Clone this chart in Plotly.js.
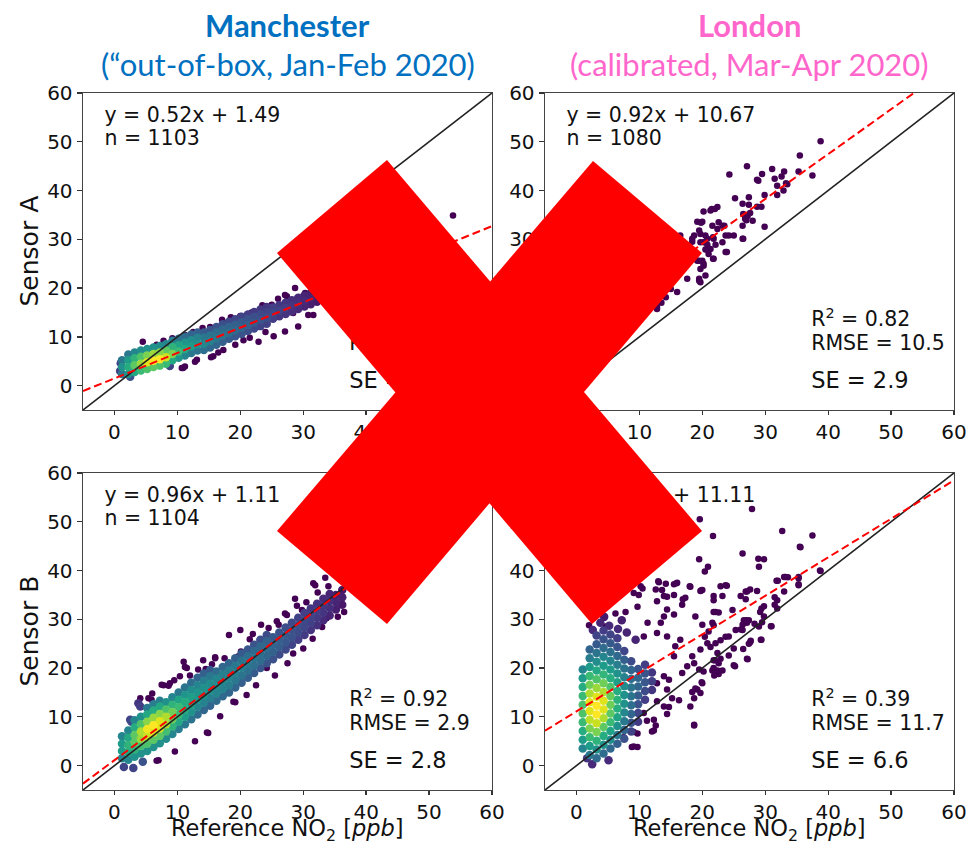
<!DOCTYPE html>
<html><head><meta charset="utf-8">
<script src="https://cdn.plot.ly/plotly-3.0.1.min.js"></script>
<style>html,body{margin:0;padding:0;background:#fff;}#chart{width:971px;height:846px;}</style>
</head><body><div id="chart"></div>
<script>
// ---------- data ----------
const cities = ['Manchester', 'London'];
const subtitles = ['(\u201cout-of-box, Jan-Feb 2020)', '(calibrated, Mar-Apr 2020)'];
const sensors = ['Sensor A', 'Sensor B'];
const xLabel = 'Reference NO<sub>2</sub> [<i>ppb</i>]';
const tickVals = [0, 10, 20, 30, 40, 50, 60];
// panels order: TL (Manchester A), TR (London A), BL (Manchester B), BR (London B)
const slopes = [0.52, 0.92, 0.96, 0.79];
const intercepts = [1.49, 10.67, 1.11, 11.11];
const nCount = [1103, 1080, 1104, 1079];
const r2 = ['0.74', '0.82', '0.92', '0.39'];
const rmse = ['6.7', '10.5', '2.9', '11.7'];
const se = ['2.3', '2.9', '2.8', '6.6'];

// dense part of each cloud: [reference, sensor, relative density]
const tlCore = [
[0.9,3.0,.2],[1.0,4.6,.2],[2.5,1.8,.25],[8.8,4.0,.2],
[1.2,2.4,.4],[1.2,3.8,.5],[1.2,5.2,.4],
[2.2,2.4,.5],[2.2,3.8,.62],[2.2,5.2,.55],[2.2,6.4,.4],
[3.2,2.8,.6],[3.2,4.2,.75],[3.2,5.6,.65],[3.2,6.8,.45],
[4.2,3.1,.68],[4.2,4.5,.85],[4.2,5.9,.72],[4.2,7.2,.48],
[5.2,3.4,.72],[5.2,4.8,.95],[5.2,6.2,.8],[5.2,7.5,.5],
[6.2,3.8,.75],[6.2,5.1,1],[6.2,6.5,.85],[6.2,7.8,.5],
[7.2,4.1,.72],[7.2,5.4,1],[7.2,6.8,.82],[7.2,8.1,.48],
[8.2,4.5,.68],[8.2,5.8,.92],[8.2,7.2,.75],[8.2,8.5,.45],
[9.2,5.2,.6],[9.2,6.5,.8],[9.2,7.9,.65],[9.2,9.2,.42],
[10.2,5.7,.52],[10.2,7.0,.68],[10.2,8.3,.58],[10.2,9.6,.38],
[11.2,6.2,.45],[11.2,7.5,.6],[11.2,8.8,.52],[11.2,10.0,.35],
[12.2,6.7,.4],[12.2,8.0,.55],[12.2,9.3,.48],[12.2,10.5,.32],
[13.2,7.2,.38],[13.2,8.5,.5],[13.2,9.8,.44],[13.2,10.9,.3],
[14.2,7.3,.36],[14.2,8.6,.46],[14.2,9.8,.4],[14.2,10.9,.28],
[15.2,7.8,.34],[15.2,9.1,.43],[15.2,10.3,.38],[15.2,11.4,.26],
[16.2,8.4,.32],[16.2,9.7,.4],[16.2,10.9,.35],[16.2,12.0,.25],
[17.2,9.0,.3],[17.2,10.3,.38],[17.2,11.5,.33],[17.2,12.6,.24],
[18.2,9.6,.28],[18.2,10.8,.36],[18.2,12.0,.32],[18.2,13.1,.22],
[19.2,10.1,.27],[19.2,11.3,.34],[19.2,12.5,.3],[19.2,13.6,.21],
[20.2,10.6,.26],[20.2,11.8,.32],[20.2,13.0,.28],[20.2,14.1,.2],
[21.2,11.2,.24],[21.2,12.4,.3],[21.2,13.6,.26],[21.2,14.6,.18],
[22.2,11.7,.22],[22.2,12.9,.28],[22.2,14.1,.24],[22.2,15.1,.17],
[23.2,12.2,.2],[23.2,13.4,.26],[23.2,14.6,.22],[23.2,15.6,.16],
[24.2,12.7,.19],[24.2,13.9,.24],[24.2,15.1,.2],[24.2,16.1,.15],
[25.2,13.7,.18],[25.2,14.9,.22],[25.2,16.0,.18],
[26.2,14.2,.16],[26.2,15.4,.2],[26.2,16.5,.16],
[27.2,14.7,.15],[27.2,15.9,.18],[27.2,17.0,.15],
[28.2,15.2,.13],[28.2,16.4,.16],[28.2,17.5,.13],
[29.2,15.7,.12],[29.2,16.9,.14],[29.2,18.0,.12],
[30.2,16.2,.1],[30.2,17.4,.12],[30.2,18.5,.1],
[31.2,16.7,.08],[31.2,17.9,.1],[31.2,19.0,.08],
[32.2,17.2,.07],[32.2,18.4,.08],
[33.2,17.7,.06],[33.2,18.9,.07]
];
const tlOut = [
[7.8,9.2],[9.2,9.7],[11.2,10.4],[15.2,12.0],[17.1,13.5],[20.0,14.3],[21.8,15.0],[25.0,16.6],
[27.1,18.6],[28.7,20.0],[30.3,18.3],[31.9,17.2],[10.7,3.6],[11.2,3.9],[12.8,4.9],[15.35,5.8],
[17.3,7.3],[19.2,8.4],[22.9,9.0],[25.3,10.1],[27.1,11.1],[29.2,12.1],[31.6,14.5],[6.7,8.4],
[27.4,18.3],[30.8,14.5],[28.4,14.9],[30.3,19.0],[31.6,17.6],[13.1,5.3],[10.9,3.6],[15.7,6.0],
[53.8,34.9],[4.5,9.0],[12.5,11.0],[14.0,11.8],[18.5,14.0],[23.5,16.5],[26.0,17.8],[21.5,9.8],
[24.0,11.0],[20.5,9.3],[16.5,6.8]
];
const trOut = [
[38.8,50.1],[35.5,47.2],[24.3,43.3],[27.1,45.0],[31.1,44.4],[29.5,43.4],[33.0,43.9],[35.3,43.9],
[37.5,43.1],[31.5,42.4],[28.7,42.2],[32.6,42.9],[31.9,41.0],[33.3,41.5],[32.9,40.0],[31.9,39.1],
[29.9,39.1],[25.2,38.4],[27.4,38.6],[26.4,37.3],[27.4,37.1],[28.7,36.7],[29.4,36.7],[29.9,32.6],
[26.5,35.2],[26.8,34.2],[27.2,34.8],[27.6,35.4],[27.0,33.9],[28.0,33.8],[26.4,32.8],[26.4,30.1],
[25.0,30.8],[24.2,30.8],[23.9,27.4],[23.2,29.4],[23.5,32.8],[22.4,32.1],[22.6,33.5],[21.6,32.8],
[22.4,36.6],[21.5,36.2],[20.2,35.7],[19.2,33.6],[20.0,33.6],[19.7,31.1],[20.8,30.1],[21.8,30.1],
[20.2,29.4],[21.3,28.0],[20.5,27.9],[20.0,25.6],[21.7,26.0],[20.2,25.0],[19.5,21.9],[19.7,21.2],
[19.7,23.9],[18.7,30.8],[18.4,30.1],[16.5,30.8],[19.5,25.6],[19.5,21.5],[17.6,21.9],[16.0,19.2],
[15.0,19.8],[14.2,18.1],[12.8,16.1],[20.5,22.6],[21.8,26.0],[20.2,24.6],[12.8,15.7],[13.5,17.0],
[28.9,42.0],[33.5,41.3],[22.0,36.2],[21.3,35.9],[23.2,32.8],[19.8,33.4],[19.5,31.8],[20.5,30.8],
[21.7,30.4],[19.7,29.4],[20.8,28.9],[22.1,28.9],[23.7,30.8],[26.5,30.1],[23.7,27.4],[18.4,29.5],
[19.2,25.6],[21.0,27.0],[20.7,27.9]
];
const blCore = [
[1.2,1.5,.45],[1.2,3.0,.55],[1.2,4.5,.55],[1.2,6.0,.45],
[2.2,1.2,.45],[2.2,2.7,.6],[2.2,4.2,.65],[2.2,5.7,.6],[2.2,7.2,.45],
[3.2,1.8,.5],[3.2,3.3,.65],[3.2,4.8,.75],[3.2,6.3,.75],[3.2,7.8,.62],[3.2,9.3,.45],
[4.2,2.5,.5],[4.2,4.0,.7],[4.2,5.5,.85],[4.2,7.0,.88],[4.2,8.5,.72],[4.2,10.0,.5],
[5.2,3.0,.5],[5.2,4.5,.72],[5.2,6.0,.92],[5.2,7.5,.98],[5.2,9.0,.82],[5.2,10.5,.6],[5.2,11.8,.4],
[6.2,3.8,.5],[6.2,5.3,.75],[6.2,6.8,.95],[6.2,8.3,1],[6.2,9.8,.85],[6.2,11.3,.62],[6.2,12.6,.42],
[7.2,4.6,.5],[7.2,6.1,.75],[7.2,7.6,.95],[7.2,9.1,.95],[7.2,10.6,.82],[7.2,12.1,.6],[7.2,13.3,.42],
[8.2,5.5,.48],[8.2,7.0,.7],[8.2,8.5,.88],[8.2,10.0,.88],[8.2,11.5,.72],[8.2,13.0,.5],
[9.2,6.5,.45],[9.2,8.0,.65],[9.2,9.5,.78],[9.2,11.0,.78],[9.2,12.5,.65],[9.2,14.0,.45],
[10.2,7.5,.42],[10.2,9.0,.6],[10.2,10.5,.68],[10.2,12.0,.68],[10.2,13.5,.58],[10.2,15.0,.4],
[11.2,8.5,.4],[11.2,10.0,.55],[11.2,11.5,.62],[11.2,13.0,.62],[11.2,14.5,.52],[11.2,16.0,.38],
[12.2,9.5,.38],[12.2,11.0,.5],[12.2,12.5,.56],[12.2,14.0,.56],[12.2,15.5,.48],[12.2,17.0,.35],
[13.2,10.5,.35],[13.2,12.0,.46],[13.2,13.5,.52],[13.2,15.0,.52],[13.2,16.5,.45],[13.2,18.0,.32],
[14.2,11.4,.33],[14.2,12.9,.44],[14.2,14.4,.5],[14.2,15.9,.5],[14.2,17.4,.42],[14.2,18.9,.3],
[15.2,12.3,.32],[15.2,13.8,.42],[15.2,15.3,.48],[15.2,16.8,.48],[15.2,18.3,.4],[15.2,19.6,.28],
[16.2,13.3,.35],[16.2,14.8,.45],[16.2,16.3,.48],[16.2,17.8,.45],[16.2,19.3,.35],
[17.2,14.2,.34],[17.2,15.7,.44],[17.2,17.2,.46],[17.2,18.7,.43],[17.2,20.2,.33],
[18.2,15.0,.33],[18.2,16.5,.42],[18.2,18.0,.45],[18.2,19.5,.42],[18.2,21.0,.32],
[19.2,16.0,.32],[19.2,17.5,.4],[19.2,19.0,.43],[19.2,20.5,.4],[19.2,22.0,.3],
[20.2,17.0,.3],[20.2,18.5,.38],[20.2,20.0,.42],[20.2,21.5,.38],[20.2,23.0,.28],
[21.2,18.0,.3],[21.2,19.5,.37],[21.2,21.0,.4],[21.2,22.5,.36],[21.2,23.8,.27],
[22.2,19.0,.28],[22.2,20.5,.36],[22.2,22.0,.38],[22.2,23.5,.34],[22.2,24.8,.25],
[23.2,20.0,.27],[23.2,21.5,.35],[23.2,23.0,.37],[23.2,24.5,.33],[23.2,25.8,.24],
[24.2,21.0,.26],[24.2,22.5,.33],[24.2,24.0,.35],[24.2,25.5,.31],[24.2,26.8,.23],
[25.2,21.8,.25],[25.2,23.3,.31],[25.2,24.8,.32],[25.2,26.3,.28],
[26.2,22.8,.23],[26.2,24.3,.29],[26.2,25.8,.3],[26.2,27.3,.26],
[27.2,23.8,.22],[27.2,25.3,.27],[27.2,26.8,.28],[27.2,28.3,.24],
[28.2,24.8,.2],[28.2,26.3,.25],[28.2,27.8,.26],[28.2,29.3,.22],
[29.2,25.8,.18],[29.2,27.3,.23],[29.2,28.8,.24],[29.2,30.3,.2],
[30.2,26.8,.17],[30.2,28.3,.21],[30.2,29.8,.22],[30.2,31.3,.18],
[31.2,27.8,.15],[31.2,29.3,.19],[31.2,30.8,.2],[31.2,32.2,.16],
[32.2,28.8,.14],[32.2,30.3,.17],[32.2,31.8,.18],[32.2,33.2,.14],
[33.2,29.8,.12],[33.2,31.3,.15],[33.2,32.8,.16],[33.2,34.2,.12],
[34.2,30.8,.1],[34.2,32.3,.13],[34.2,33.8,.13],[34.2,35.2,.1],
[35.2,32.0,.08],[35.2,33.5,.1],[35.2,35.0,.08],
[36.2,33.0,.06],[36.2,34.5,.08],[36.2,36.0,.06],
[4.1,12.1,.18],[2.5,9.4,.2],[2.7,9.0,.22],[3.8,12.8,.15],[1.5,-0.3,.2],[3.0,-0.5,.2],[4.5,0.8,.25]
];
const blOut = [
[31.6,37.4],[33.5,38.5],[31.9,37.0],[28.7,34.2],[34.5,34.0],[32.9,32.6],[33.7,30.2],[33.0,28.4],
[29.8,31.9],[27.1,31.2],[27.4,30.9],[26.1,28.9],[23.3,28.9],[20.0,27.8],[18.2,26.8],[21.5,25.9],
[23.1,25.8],[20.1,23.4],[19.7,22.4],[16.0,22.2],[14.1,21.6],[11.0,21.3],[11.2,20.2],[11.5,20.0],
[13.3,19.7],[10.4,18.3],[8.6,16.4],[7.8,16.5],[7.5,16.6],[4.1,13.8],[5.4,13.8],[5.9,13.5],
[6.7,1.0],[7.0,1.1],[9.6,2.9],[12.8,5.0],[14.9,6.7],[14.7,6.8],[16.8,10.1],[18.9,13.1],
[19.2,13.0],[28.4,23.0],[24.2,20.0],[16.0,22.0],[8.8,16.9],[12.0,18.5],[14.5,19.8],[15.5,20.8],
[17.5,22.0],[9.5,17.5],[6.0,14.8],[21.0,14.5],[22.5,16.5],[25.5,18.5],[27.5,21.0],[30.0,24.0],
[31.5,26.0],[35.5,30.5],[36.5,31.5],[25.8,29.6],[24.5,28.2],[22.0,27.0],[29.0,32.8],[30.5,33.5],
[32.3,35.5],[34.0,36.8]
];
const brCore = [
[1.0,3.5,.45],[1.0,5.3,.55],[1.0,7.1,.62],[1.0,8.9,.68],[1.0,10.7,.72],[1.0,12.5,.72],[1.0,14.3,.68],[1.0,16.1,.62],[1.0,17.9,.55],[1.0,19.7,.45],
[2.1,2.2,.4],[2.1,4.0,.55],[2.1,5.8,.68],[2.1,7.6,.8],[2.1,9.4,.9],[2.1,11.2,.95],[2.1,13.0,.95],[2.1,14.8,.88],[2.1,16.6,.78],[2.1,18.4,.68],[2.1,20.2,.55],[2.1,22.0,.42],[2.1,23.8,.32],
[3.2,1.5,.35],[3.2,3.3,.5],[3.2,5.1,.65],[3.2,6.9,.8],[3.2,8.7,.92],[3.2,10.5,1],[3.2,12.3,1],[3.2,14.1,.95],[3.2,15.9,.85],[3.2,17.7,.72],[3.2,19.5,.6],[3.2,21.3,.48],[3.2,23.1,.38],[3.2,24.9,.28],[3.2,26.7,.2],
[4.3,2.5,.35],[4.3,4.3,.5],[4.3,6.1,.62],[4.3,7.9,.75],[4.3,9.7,.88],[4.3,11.5,.95],[4.3,13.3,.95],[4.3,15.1,.88],[4.3,16.9,.78],[4.3,18.7,.66],[4.3,20.5,.55],[4.3,22.3,.45],[4.3,24.1,.35],[4.3,25.9,.26],[4.3,27.7,.18],
[5.4,3.5,.34],[5.4,5.3,.48],[5.4,7.1,.58],[5.4,8.9,.68],[5.4,10.7,.75],[5.4,12.5,.78],[5.4,14.3,.77],[5.4,16.1,.72],[5.4,17.9,.63],[5.4,19.7,.55],[5.4,21.5,.45],[5.4,23.3,.37],[5.4,25.1,.28],[5.4,26.9,.2],
[6.5,4.5,.3],[6.5,6.3,.4],[6.5,8.1,.5],[6.5,9.9,.58],[6.5,11.7,.63],[6.5,13.5,.64],[6.5,15.3,.62],[6.5,17.1,.57],[6.5,18.9,.5],[6.5,20.7,.42],[6.5,22.5,.34],[6.5,24.3,.26],[6.5,26.1,.18],
[7.6,5.5,.25],[7.6,7.3,.32],[7.6,9.1,.4],[7.6,10.9,.46],[7.6,12.7,.5],[7.6,14.5,.5],[7.6,16.3,.48],[7.6,18.1,.44],[7.6,19.9,.38],[7.6,21.7,.3],[7.6,23.5,.21],
[8.7,7.0,.2],[8.7,8.8,.26],[8.7,10.6,.32],[8.7,12.4,.36],[8.7,14.2,.38],[8.7,16.0,.38],[8.7,17.8,.36],[8.7,19.6,.32],[8.7,21.4,.23],
[9.8,9.0,.17],[9.8,10.8,.21],[9.8,12.6,.25],[9.8,14.4,.29],[9.8,16.2,.32],[9.8,18.0,.32],[9.8,19.8,.26],
[10.9,13.5,.18],[10.9,15.3,.23],[10.9,17.1,.27],[10.9,18.9,.26],[10.9,20.7,.18],
[12.0,15.5,.15],[12.0,17.3,.19],[12.0,19.1,.16],
[2.6,27.8,.12],[3.8,29.3,.1],[5.2,28.7,.12],[6.6,28.0,.12],[8.0,27.3,.1],[9.4,25.8,.1],[7.2,29.8,.08],[4.4,30.5,.07],
[5.1,1.1,.12],[2.5,0.3,.12],[1.7,1.5,.15]
];
const brOut = [
[19.6,50.5],[21.7,47.1],[26.4,43.5],[19.5,42.3],[20.9,40.8],[20.4,39.8],[27.9,52.6],[15.9,37.4],
[13.1,37.6],[13.6,36.0],[10.5,36.3],[9.9,35.0],[9.7,32.6],[7.8,31.5],[6.2,31.2],[2.0,28.8],
[4.6,28.5],[15.5,35.0],[14.4,34.6],[16.9,34.1],[18.1,36.7],[19.8,35.9],[21.8,33.9],[23.7,37.0],
[26.9,35.7],[24.8,31.9],[26.6,29.8],[27.4,29.8],[26.4,27.8],[25.3,27.8],[23.7,26.4],[27.4,25.0],
[27.1,21.9],[25.0,20.6],[22.0,21.6],[22.6,18.8],[19.9,17.1],[18.9,15.8],[18.4,15.1],[18.7,8.2],
[16.3,13.4],[14.7,12.0],[14.4,10.6],[12.6,8.2],[12.3,7.2],[11.2,9.2],[9.1,6.9],[9.7,3.8],
[8.8,3.8],[7.5,5.8],[32.7,48.1],[37.5,47.2],[35.5,44.9],[29.8,42.3],[29.0,40.8],[38.7,40.0],
[33.0,38.7],[33.6,38.6],[32.0,37.9],[35.3,38.4],[35.3,37.0],[23.9,36.9],[27.1,35.7],[27.6,36.1],
[28.7,35.8],[20.0,36.0],[23.2,34.8],[31.5,34.5],[31.9,33.9],[33.0,35.7],[29.4,32.2],[29.8,32.7],
[29.2,31.5],[28.3,29.1],[29.0,28.5],[31.0,28.6],[26.1,27.9],[27.7,25.6],[29.4,25.8],[26.5,23.9],
[27.2,21.8],[25.2,20.4],[24.2,22.6],[22.9,21.9],[21.8,21.6],[22.4,19.5],[23.2,19.5],[21.6,19.5],
[24.2,26.5],[25.0,24.0],[22.9,25.7],[21.3,24.3],[22.1,31.5],[22.6,31.4],[21.8,28.8],[20.4,26.4],
[21.9,18.5],[28.9,42.4],[13.0,37.8],[14.2,37.3],[15.5,37.2],[16.0,37.5],[18.0,36.8],[19.7,35.8],
[21.8,34.8],[22.9,36.8],[17.3,34.4],[13.9,34.8],[12.6,36.1],[9.1,35.4],[10.2,36.8],[12.8,33.7],
[14.4,32.0],[13.9,30.6],[15.5,31.0],[16.8,33.0],[18.9,30.6],[21.8,31.5],[20.0,28.9],[21.0,27.5],
[21.6,29.3],[20.8,25.1],[22.1,25.1],[22.4,23.1],[19.7,23.8],[18.4,22.4],[16.5,25.8],[14.4,26.5],
[12.8,27.2],[13.4,29.3],[11.3,29.3],[10.7,26.5],[15.7,24.5],[15.5,22.4],[18.7,21.0],[17.6,20.4],
[19.5,19.7],[20.2,19.3],[21.8,20.0],[16.8,19.0],[14.7,17.6],[13.9,18.3],[12.8,16.9],[14.4,15.6],
[15.2,13.8],[13.9,12.1],[12.8,13.2],[12.3,9.4],[12.0,7.0],[10.7,10.8],[9.7,6.6],[9.1,3.9],
[18.7,13.8],[19.2,15.6],[20.0,16.9],[22.6,21.0],[18.7,8.4],[18.1,12.1],[19.7,14.9],[35.6,44.8],
[38.8,39.9],[33.2,38.7],[31.8,37.9],[35.3,38.7],[35.3,37.2],[26.1,34.8],[26.9,34.1],[31.5,33.0],
[31.9,32.2],[29.8,30.6],[29.5,29.4],[27.1,29.3],[26.4,28.9],[27.0,29.8],[30.9,28.6],[29.3,25.8],
[27.6,25.3]
];

// ---------- figure ----------
const W = 971, H = 846;
const px = v => v / W, py = v => 1 - v / H;
const xL = [px(83), px(492)], xR = [px(545), px(954)];
const yT = [py(410), py(93)], yB = [py(790), py(473)];

const cores = [tlCore, [], blCore, brCore];
const outs = [tlOut, trOut, blOut, brOut];
const xas = ['x', 'x2', 'x3', 'x4'], yas = ['y', 'y2', 'y3', 'y4'];
const txtFont = {family: 'DejaVu Sans', size: 20.5, color: '#111'};
const traces = [];
for (let k = 0; k < 4; k++) {
  const base = {type: 'scatter', xaxis: xas[k], yaxis: yas[k], hoverinfo: 'skip', showlegend: false};
  const o = outs[k];
  traces.push(Object.assign({}, base, {mode: 'markers', x: o.map(q => q[0]), y: o.map(q => q[1]),
    marker: {size: 6.5, color: '#440154', line: {width: 0}}}));
  const c = cores[k].slice().sort((a, b) => a[2] - b[2]);
  traces.push(Object.assign({}, base, {mode: 'markers', x: c.map(q => q[0]), y: c.map(q => q[1]),
    marker: {size: 8.5, color: c.map(q => q[2]), colorscale: 'Viridis', cmin: 0, cmax: 1, line: {width: 0}}}));
  traces.push(Object.assign({}, base, {mode: 'lines', x: [-5, 60], y: [-5, 60], line: {color: '#222', width: 1.6}}));
  traces.push(Object.assign({}, base, {mode: 'lines', x: [-5, 60],
    y: [-5 * slopes[k] + intercepts[k], 60 * slopes[k] + intercepts[k]],
    line: {color: '#ff0000', width: 2, dash: '8px,4px'}}));
  traces.push(Object.assign({}, base, {mode: 'text', x: [-1.6, -1.6], y: [55.1, 50.4],
    text: ['y = ' + slopes[k].toFixed(2) + 'x + ' + intercepts[k].toFixed(2), 'n = ' + nCount[k]],
    textposition: 'middle right', textfont: txtFont, cliponaxis: false}));
  traces.push(Object.assign({}, base, {mode: 'text', x: [37.3, 37.3], y: [13.2, 8.4],
    text: ['R<sup>2</sup> = ' + r2[k], 'RMSE = ' + rmse[k]],
    textposition: 'middle right', textfont: txtFont, cliponaxis: false}));
  traces.push(Object.assign({}, base, {mode: 'text', x: [37.3], y: [0.6], text: ['SE = ' + se[k]],
    textposition: 'middle right', textfont: {family: 'DejaVu Sans', size: 22.5, color: '#111'}, cliponaxis: false}));
}

const axBase = {range: [-5, 60], tickvals: tickVals, ticks: 'outside', ticklen: 5, tickwidth: 1.3,
  tickcolor: '#333', showline: true, linecolor: '#444', linewidth: 1.4, mirror: true,
  showgrid: false, zeroline: false, fixedrange: true,
  tickfont: {family: 'DejaVu Sans', size: 20, color: '#111'}};
const xAx = Object.assign({}, axBase, {ticklen: 4});

// red cross overlay (pixel corners of the two bars)
const bars = [
  [[277, 253], [387, 160], [702, 531], [592, 624]],
  [[277, 531], [593, 161], [702, 253], [387, 624]]
];
const shapes = bars.map(b => ({type: 'path', xref: 'paper', yref: 'paper', layer: 'above',
  path: 'M' + b.map(p => px(p[0]).toFixed(5) + ',' + py(p[1]).toFixed(5)).join(' L') + ' Z',
  fillcolor: '#ff0000', line: {width: 0}}));

const cityColors = ['#0070C0', '#FF66CC'];
const centers = [(83 + 492) / 2, (545 + 954) / 2];
const annotations = [];
for (let i = 0; i < 2; i++) {
  annotations.push({xref: 'paper', yref: 'paper', x: px(centers[i]), y: py(25), xanchor: 'center', yanchor: 'middle',
    text: '<b>' + cities[i] + '</b>', showarrow: false, font: {family: 'Lato', size: 31, color: cityColors[i]}});
  annotations.push({xref: 'paper', yref: 'paper', x: px(centers[i]), y: py(64), xanchor: 'center', yanchor: 'middle',
    text: subtitles[i], showarrow: false, font: {family: 'Lato', size: 31, color: cityColors[i]}});
  // x-axis titles under the bottom panels
  annotations.push({xref: 'paper', yref: 'paper', x: px(centers[i]), y: py(830), xanchor: 'center', yanchor: 'middle',
    text: xLabel, showarrow: false, borderpad: 0, font: {family: 'DejaVu Sans', size: 22.5, color: '#111'}});
  // y-axis titles left of the left panels
  annotations.push({xref: 'paper', yref: 'paper', x: px(29), y: py(i === 0 ? 251.5 : 631.5), xanchor: 'center', yanchor: 'middle',
    text: sensors[i], textangle: -90, showarrow: false, font: {family: 'DejaVu Sans', size: 25, color: '#111'}});
}

const layout = {
  width: W, height: H, margin: {l: 0, r: 0, t: 0, b: 0}, paper_bgcolor: '#fff', plot_bgcolor: '#fff',
  showlegend: false,
  xaxis: Object.assign({}, xAx, {domain: xL, anchor: 'y'}),
  yaxis: Object.assign({}, axBase, {domain: yT, anchor: 'x'}),
  xaxis2: Object.assign({}, xAx, {domain: xR, anchor: 'y2'}),
  yaxis2: Object.assign({}, axBase, {domain: yT, anchor: 'x2'}),
  xaxis3: Object.assign({}, xAx, {domain: xL, anchor: 'y3'}),
  yaxis3: Object.assign({}, axBase, {domain: yB, anchor: 'x3'}),
  xaxis4: Object.assign({}, xAx, {domain: xR, anchor: 'y4'}),
  yaxis4: Object.assign({}, axBase, {domain: yB, anchor: 'x4'}),
  shapes: shapes, annotations: annotations
};
Plotly.newPlot('chart', traces, layout, {staticPlot: true, displayModeBar: false});
</script></body></html>
